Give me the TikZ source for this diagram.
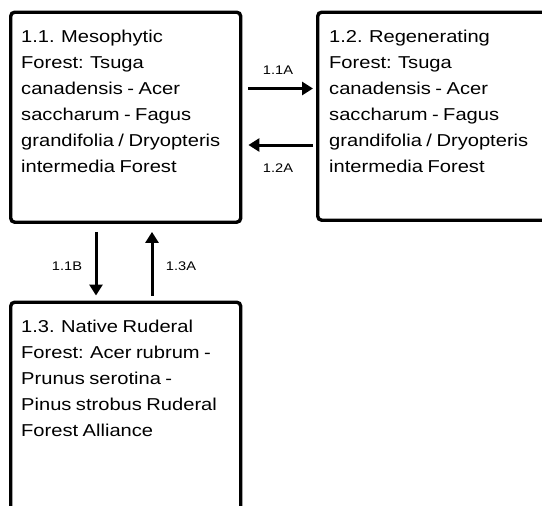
\documentclass[tikz,border=0pt]{standalone}
\usepackage{fontspec}
\setmainfont[FakeStretch=1.17,WordSpace=0.8]{Liberation Sans}
\usetikzlibrary{arrows.meta,calc}
\begin{document}
\begin{tikzpicture}[x=1pt,y=-1pt,
  box/.style={draw, line width=3.4pt, rounded corners=4pt, minimum width=230pt, anchor=north west, inner sep=0pt},
  body/.style={anchor=north west, align=left, inner sep=0pt, font=\fontsize{17.2}{26}\selectfont},
  lab/.style={inner sep=0pt, font=\fontsize{12.5}{14}\selectfont},
  arr/.style={line width=3pt, -{Triangle[length=11pt,width=13pt]}}]
\useasboundingbox (0,0) rectangle (542,506);
\clip (0,0) rectangle (542,506);
% boxes
\node[box, minimum height=210pt] (b1) at (9,10.5) {};
\node[box, minimum height=208pt, minimum width=240pt] (b2) at (316,10.5) {};
\node[box, minimum height=240pt] (b3) at (9,300.5) {};
% texts
\node[body] (t1) at ($(b1.north west)+(12,19)$) {1.1. Mesophytic\\Forest: Tsuga\\canadensis - Acer\\saccharum - Fagus\\grandifolia / Dryopteris\\intermedia Forest};
\node[body] (t2) at ($(b2.north west)+(13,19)$) {1.2. Regenerating\\Forest: Tsuga\\canadensis - Acer\\saccharum - Fagus\\grandifolia / Dryopteris\\intermedia Forest};
\node[body] (t3) at ($(b3.north west)+(12,19)$) {1.3. Native Ruderal\\Forest: Acer rubrum -\\Prunus serotina -\\Pinus strobus Ruderal\\Forest Alliance};
% connectors
\draw[arr] ($(b1.north east)+(6,78)$) -- ($(b2.north west)+(-3,78)$);
\draw[arr] ($(b2.north west)+(-3,134.5)$) -- ($(b1.north east)+(6,134.5)$);
\draw[arr] ($(b1.south west)+(87,8)$) -- ($(b3.north west)+(87,-5)$);
\draw[arr] ($(b3.north west)+(143,-5)$) -- ($(b1.south west)+(143,8)$);
% labels
\node[lab] (l1) at (278,70) {1.1A};
\node[lab] (l2) at (278,168) {1.2A};
\node[lab] (l3) at (67,266) {1.1B};
\node[lab] (l4) at (181,266) {1.3A};
\end{tikzpicture}
\end{document}
